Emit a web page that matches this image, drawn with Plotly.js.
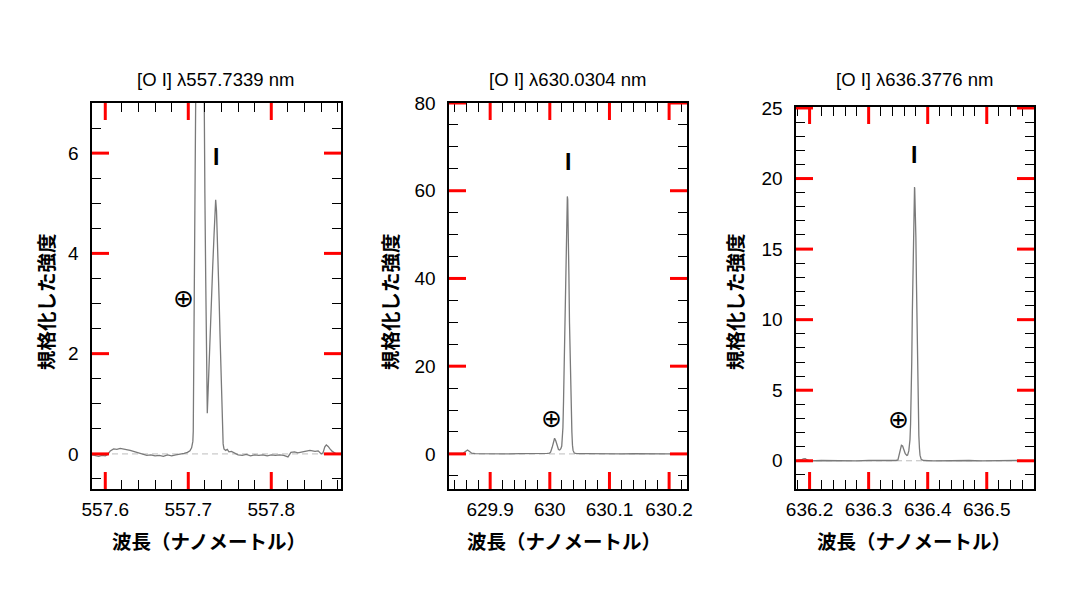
<!DOCTYPE html>
<html>
<head>
<meta charset="utf-8">
<script src="https://cdn.plot.ly/plotly-3.0.1.min.js"></script>
<style>
html,body{margin:0;padding:0;background:#fff;}
#chart{width:1080px;height:608px;}
</style>
</head>
<body>
<div id="chart"></div>
<script>
// ---- data ----
const panelTitles = ["[O I] λ557.7339 nm", "[O I] λ630.0304 nm", "[O I] λ636.3776 nm"];
const restWl = [557.7339, 630.0304, 636.3776];          // "I" line markers
const lineMarkY = [5.93, 66.6, 21.7];
const tellWl = [557.6948, 630.003, 636.3506];            // ⊕ telluric markers
const tellY = [3.11, 8.14, 2.9];
const xTitle = "波長（ナノメートル）";
const yTitle = "規格化した強度";

const wl1 = [557.584, 557.588, 557.592, 557.596, 557.600, 557.603, 557.606, 557.610, 557.614, 557.618,
             557.622, 557.626, 557.630, 557.634, 557.638, 557.642, 557.646, 557.650, 557.655, 557.660,
             557.665, 557.670, 557.675, 557.680, 557.685, 557.690, 557.695, 557.699, 557.702, 557.704,
             557.7055, 557.706, 557.707, 557.708, 557.709, 557.710, 557.7115, 557.7141, 557.7167, 557.718,
             557.7189, 557.720, 557.721, 557.722, 557.7229, 557.724, 557.7261, 557.7278, 557.7294, 557.731,
             557.7322, 557.733, 557.734, 557.735, 557.7361, 557.7372, 557.7382, 557.7396, 557.741, 557.742,
             557.743, 557.745, 557.747, 557.749, 557.752, 557.756, 557.760, 557.765, 557.770, 557.775,
             557.780, 557.785, 557.790, 557.795, 557.800, 557.805, 557.810, 557.815, 557.8201, 557.8237,
             557.828, 557.832, 557.8358, 557.8406, 557.8466, 557.8527, 557.8565, 557.8602, 557.8623, 557.8645,
             557.8663, 557.8685, 557.8707, 557.8735, 557.878, 557.884];
const int1 = [-0.02, -0.04, -0.05, -0.03, -0.04, -0.01, 0.06, 0.10, 0.09, 0.11,
              0.10, 0.09, 0.07, 0.05, 0.03, 0.02, -0.01, -0.03, -0.02, -0.04,
              -0.03, -0.05, -0.02, -0.04, -0.02, -0.01, 0.01, 0.03, 0.06, 0.12,
              0.25, 0.45, 2.5, 4.8, 6.9, 9.5, 16, 24, 16, 10,
              7.0, 5.2, 3.5, 1.9, 0.81, 1.3, 2.4, 3.1, 3.72, 4.35,
              4.85, 5.07, 4.85, 4.4, 3.72, 3.05, 2.39, 1.4, 0.45, 0.2,
              0.1, 0.07, 0.09, 0.04, 0.05, 0.01, -0.02, -0.03, -0.01, -0.04,
              -0.02, -0.03, -0.02, -0.04, -0.02, -0.03, -0.02, -0.03, -0.06, 0.03,
              0.04, 0.02, 0.04, 0.05, 0.07, 0.05, 0.06, 0.0, 0.02, 0.14,
              0.18, 0.15, 0.10, 0.05, 0.0, 0.0];

const wl2 = [629.83, 629.84, 629.85, 629.855, 629.859, 629.862, 629.865, 629.869, 629.875, 629.89,
             629.91, 629.93, 629.95, 629.97, 629.99, 629.996, 629.9995, 630.0013, 630.004, 630.006,
             630.008, 630.010, 630.012, 630.0145, 630.0165, 630.0185, 630.020, 630.021, 630.022, 630.023,
             630.024, 630.025, 630.026, 630.027, 630.028, 630.029, 630.0294, 630.030, 630.031, 630.032,
             630.033, 630.034, 630.035, 630.036, 630.037, 630.038, 630.039, 630.041, 630.045, 630.06,
             630.08, 630.10, 630.12, 630.14, 630.16, 630.18, 630.20, 630.23];
const int2 = [0.1, 0.05, 0.1, 0.2, 0.6, 0.9, 0.6, 0.15, 0.05, 0.0,
              0.05, 0.0, 0.05, 0.0, 0.05, 0.1, 0.2, 0.4, 1.5, 3.0,
              3.57, 3.0, 1.9, 1.0, 0.9, 1.2, 1.8, 3.5, 6, 12,
              19, 28, 37, 45, 53, 58.3, 58.7, 58, 52, 41,
              30, 21, 14, 9, 5, 2, 0.8, 0.2, 0.05, 0.05,
              0.0, 0.05, 0.0, 0.05, 0.0, 0.05, 0.0, 0.0];

const wl3 = [636.177, 636.183, 636.187, 636.1895, 636.1927, 636.196, 636.200, 636.22, 636.24, 636.26,
             636.28, 636.30, 636.32, 636.34, 636.346, 636.3496, 636.351, 636.353, 636.3555, 636.3575,
             636.360, 636.362, 636.3648, 636.366, 636.368, 636.370, 636.371, 636.372, 636.373, 636.374,
             636.375, 636.376, 636.377, 636.3777, 636.378, 636.379, 636.380, 636.381, 636.382, 636.383,
             636.384, 636.385, 636.386, 636.387, 636.389, 636.393, 636.41, 636.43, 636.45, 636.47,
             636.49, 636.51, 636.53, 636.55, 636.58];
const int3 = [0, 0.02, 0.08, 0.13, 0.15, 0.06, 0.0, 0.02, 0.0, 0.02,
              0.0, 0.02, 0.0, 0.02, 0.02, 0.06, 0.3, 0.7, 1.1, 1.05,
              0.75, 0.5, 0.38, 0.4, 0.7, 1.5, 2.6, 4.4, 7, 10.5,
              13.8, 16.8, 19, 19.4, 19.3, 18.2, 15.8, 12.5, 9.0, 5.8,
              3.4, 1.8, 0.9, 0.4, 0.1, 0.02, 0.0, 0.02, 0.0, 0.02,
              0.0, 0.02, 0.0, 0.02, 0.0];

const xTickVals = [[557.6, 557.7, 557.8], [629.9, 630.0, 630.1, 630.2], [636.2, 636.3, 636.4, 636.5]];
const xTickText = [["557.6", "557.7", "557.8"], ["629.9", "630", "630.1", "630.2"], ["636.2", "636.3", "636.4", "636.5"]];
const yTickVals = [[0, 2, 4, 6], [0, 20, 40, 60, 80], [0, 5, 10, 15, 20, 25]];
const yTickText = [["0", "2", "4", "6"], ["0", "20", "40", "60", "80"], ["0", "5", "10", "15", "20", "25"]];

// ---- layout geometry / style ----
const W = 1080, H = 608;
const xRanges = [[557.584, 557.884], [629.831, 630.230], [636.177, 636.580]];
const yRanges = [[-0.7, 7.0], [-8, 80], [-2, 25.07]];
const xMinor = [0.02, 0.02, 0.02];
const yMinor = [0.5, 5, 1];
const pxX = [[92, 341], [449, 687], [796, 1034]];
const pxY = [[103, 489], [103, 489], [107, 489]];
const majorLen = 17, minorLen = 9;
const titleY = 79, xTitleY = 540, yTitleY = 302;
const yTitleX = [45, 389, 734];
const xTitleX = [209, 564, 914];
const titleX = [215, 567, 914];

const wls = [wl1, wl2, wl3], ints = [int1, int2, int3];
const traces = [];
const layout = {
  width: W, height: H,
  margin: {l: 0, r: 0, t: 0, b: 0},
  paper_bgcolor: '#fff', plot_bgcolor: 'rgba(0,0,0,0)',
  showlegend: false,
  font: {family: 'Liberation Sans, Arial, sans-serif', color: '#000', size: 19},
  annotations: [], shapes: []
};
const tickFont = {family: 'Liberation Sans, Arial, sans-serif', size: 19, color: '#000'};
const cjk = 'Noto Sans CJK JP, sans-serif';

for (let i = 0; i < 3; i++) {
  const n = i === 0 ? '' : String(i + 1);
  const m = String(i + 4);                 // overlay axes carrying the minor ticks
  const xa = 'x' + n, ya = 'y' + n, xm = 'x' + m, ym = 'y' + m;
  const xDom = [pxX[i][0] / W, pxX[i][1] / W];
  const yDom = [1 - pxY[i][1] / H, 1 - pxY[i][0] / H];
  const plotWpx = pxX[i][1] - pxX[i][0], plotHpx = pxY[i][1] - pxY[i][0];

  traces.push({
    x: wls[i], y: ints[i], xaxis: xm, yaxis: ym,
    type: 'scatter', mode: 'lines',
    line: {color: 'rgba(0,0,0,0)', width: 0.1}, hoverinfo: 'skip'
  });
  traces.push({
    x: wls[i], y: ints[i], xaxis: xa, yaxis: ya,
    type: 'scatter', mode: 'lines',
    line: {color: '#7a7a7a', width: 1.3},
    hoverinfo: 'skip'
  });
  const common = {
    showgrid: false, zeroline: false, showline: true, linecolor: '#000', linewidth: 1.6,
    mirror: true, ticks: '', tickfont: tickFont, fixedrange: true
  };
  layout['xaxis' + n] = Object.assign({}, common, {
    domain: xDom, anchor: ya, range: xRanges[i],
    tickmode: 'array', tickvals: xTickVals[i], ticktext: xTickText[i],
    ticklabelstandoff: 3
  });
  layout['yaxis' + n] = Object.assign({}, common, {
    domain: yDom, anchor: xa, range: yRanges[i],
    tickmode: 'array', tickvals: yTickVals[i], ticktext: yTickText[i],
    ticklabelstandoff: 8
  });
  const tickOnly = {
    showgrid: false, zeroline: false, showline: false, showticklabels: false,
    mirror: 'allticks', ticks: 'inside', tickwidth: 1, tickcolor: '#000', fixedrange: true,
    tickmode: 'linear'
  };
  layout['xaxis' + m] = Object.assign({}, tickOnly, {
    domain: xDom, anchor: ym, overlaying: xa, range: xRanges[i],
    tick0: xTickVals[i][0], dtick: xMinor[i], ticklen: minorLen
  });
  layout['yaxis' + m] = Object.assign({}, tickOnly, {
    domain: yDom, anchor: xm, overlaying: ya, range: yRanges[i],
    tick0: 0, dtick: yMinor[i], ticklen: minorLen
  });

  // long major ticks on all four edges, at the tick values (diagnostic colour)
  xTickVals[i].forEach(function (v) {
    [[0, majorLen / plotHpx], [1, 1 - majorLen / plotHpx]].forEach(function (e) {
      layout.shapes.push({
        type: 'line', xref: xa, yref: ya + ' domain', x0: v, x1: v, y0: e[0], y1: e[1],
        line: {color: 'red', width: 3}, layer: 'above'
      });
    });
  });
  yTickVals[i].forEach(function (v) {
    [[0, majorLen / plotWpx], [1, 1 - majorLen / plotWpx]].forEach(function (e) {
      layout.shapes.push({
        type: 'line', xref: xa + ' domain', yref: ya, x0: e[0], x1: e[1], y0: v, y1: v,
        line: {color: 'red', width: 3}, layer: 'above'
      });
    });
  });

  layout.shapes.push({
    type: 'line', xref: xa + ' domain', yref: ya, x0: 0, x1: 1, y0: 0, y1: 0,
    line: {color: '#bdbdbd', width: 1, dash: '6px,4px'}, layer: 'below'
  });
  layout.annotations.push({
    xref: 'paper', yref: 'paper', x: titleX[i] / W, y: 1 - titleY / H,
    xanchor: 'center', yanchor: 'middle', showarrow: false,
    text: panelTitles[i], font: {family: 'Liberation Sans, Arial, sans-serif', size: 18.5, color: '#000'}
  });
  layout.annotations.push({
    xref: 'paper', yref: 'paper', x: xTitleX[i] / W, y: 1 - xTitleY / H,
    xanchor: 'center', yanchor: 'middle', showarrow: false,
    text: xTitle, font: {family: cjk, size: 19.5, color: '#000', weight: 'bold'}
  });
  layout.annotations.push({
    xref: 'paper', yref: 'paper', x: yTitleX[i] / W, y: 1 - yTitleY / H,
    xanchor: 'center', yanchor: 'middle', showarrow: false, textangle: -90,
    text: yTitle, font: {family: cjk, size: 19.5, color: '#000', weight: 'bold'}
  });
  layout.annotations.push({
    xref: xa, yref: ya, x: restWl[i], y: lineMarkY[i],
    xanchor: 'center', yanchor: 'middle', showarrow: false,
    text: '<b>I</b>', font: {family: 'Liberation Sans, Arial, sans-serif', size: 23, color: '#000'}
  });
  layout.annotations.push({
    xref: xa, yref: ya, x: tellWl[i], y: tellY[i],
    xanchor: 'center', yanchor: 'middle', showarrow: false,
    text: '⊕', font: {family: 'DejaVu Sans, sans-serif', size: 25, color: '#000'}
  });
}

Plotly.newPlot('chart', traces, layout, {staticPlot: true, displayModeBar: false});
</script>
</body>
</html>
